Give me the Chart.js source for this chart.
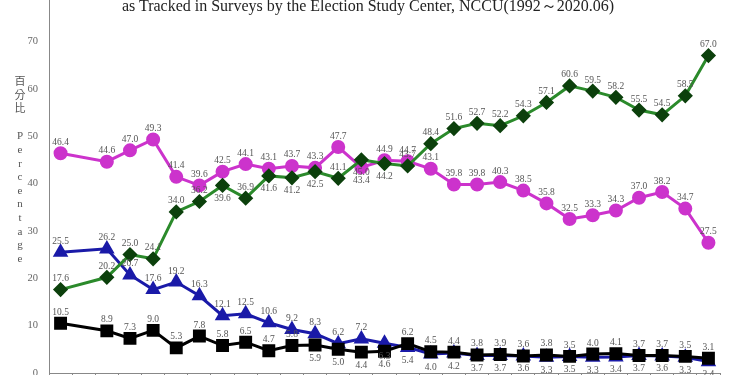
<!DOCTYPE html>
<html>
<head>
<meta charset="utf-8">
<script src="https://cdn.jsdelivr.net/npm/chart.js@4.4.1/dist/chart.umd.min.js"></script>
<style>
    html, body { margin: 0; padding: 0; background: #fff; }
    #page { position: relative; width: 750px; height: 375px; overflow: hidden; background: #fff; }
    #wrap { position: absolute; left: 0; top: -50px; width: 750px; height: 490px; }
    #titulo { position: absolute; left: 0; top: -4px; width: 736px; text-align: center;
        font: 16px "Liberation Serif", serif; color: #222; white-space: nowrap; z-index: 2; }
    #ejeY { position: absolute; left: 13px; top: 75px; width: 14px; text-align: center;
        font: 11px "Liberation Serif", "Noto Sans CJK TC", serif; line-height: 13.6px; color: #555; z-index: 2; }
</style>
</head>
<body>
<div id="page">
    <div id="titulo">as Tracked in Surveys by the Election Study Center, NCCU(1992～2020.06)</div>
    <div id="ejeY">百<br>分<br>比<br>&nbsp;<br>P<br>e<br>r<br>c<br>e<br>n<br>t<br>a<br>g<br>e</div>
    <div id="wrap"><canvas id="grafico"></canvas></div>
</div>
<script>
// años de encuesta (1993 sin dato)
var years = ['1992', '1993', '1994', '1995', '1996', '1997', '1998', '1999', '2000', '2001', '2002',
    '2003', '2004', '2005', '2006', '2007', '2008', '2009', '2010', '2011', '2012', '2013', '2014',
    '2015', '2016', '2017', '2018', '2019', '2020.06'];

var taiwanese = [17.6, null, 20.2, 25.0, 24.1, 34.0, 36.2, 39.6, 36.9, 41.6, 41.2, 42.5, 41.1, 45.0,
    44.2, 43.7, 48.4, 51.6, 52.7, 52.2, 54.3, 57.1, 60.6, 59.5, 58.2, 55.5, 54.5, 58.5, 67.0];
var both = [46.4, null, 44.6, 47.0, 49.3, 41.4, 39.6, 42.5, 44.1, 43.1, 43.7, 43.3, 47.7, 43.4,
    44.9, 44.7, 43.1, 39.8, 39.8, 40.3, 38.5, 35.8, 32.5, 33.3, 34.3, 37.0, 38.2, 34.7, 27.5];
var chinese = [25.5, null, 26.2, 20.7, 17.6, 19.2, 16.3, 12.1, 12.5, 10.6, 9.2, 8.3, 6.2, 7.2,
    6.3, 5.4, 4.0, 4.2, 3.7, 3.7, 3.6, 3.3, 3.5, 3.3, 3.4, 3.7, 3.6, 3.3, 2.4];
var nonResponse = [10.5, null, 8.9, 7.3, 9.0, 5.3, 7.8, 5.8, 6.5, 4.7, 5.8, 5.9, 5.0, 4.4,
    4.6, 6.2, 4.5, 4.4, 3.8, 3.9, 3.6, 3.8, 3.5, 4.0, 4.1, 3.7, 3.7, 3.5, 3.1];

var yTicks = [0, 10, 20, 30, 40, 50, 60, 70, 80];

// posicion de etiquetas: 'u' arriba, 'd' abajo
var posTaiwanese = 'u-uuuuududddudduuuuuuuuuuuuu';
var posBoth = 'u-uuuuuuuuuuudu' + 'uuuuuuuuuuuuuu';
var posChinese = 'u-uuuuuuuuuuuud' + 'dddddddddddddd';
var posNonResponse = 'u-uuuuuuuuudddd' + 'uuuuuuuuuuuuuu';

var etiquetas = {
    id: 'etiquetas',
    afterDatasetsDraw: function (chart) {
        var ctx = chart.ctx;
        ctx.save();
        ctx.font = '9.5px "Liberation Serif", serif';
        ctx.fillStyle = '#555';
        ctx.textAlign = 'center';
        ctx.textBaseline = 'middle';
        chart.data.datasets.forEach(function (ds, i) {
            var meta = chart.getDatasetMeta(i);
            meta.data.forEach(function (p, j) {
                var v = ds.data[j];
                if (v === null) return;
                var dy = ds.posEtiq.charAt(j) === 'd' ? 13 : -11;
                ctx.fillText(v.toFixed(1), p.x, p.y + dy);
            });
        });
        ctx.restore();
    }
};

new Chart(document.getElementById('grafico'), {
    type: 'line',
    data: {
        labels: years,
        datasets: [{
            label: 'Non-response',
            data: nonResponse,
            posEtiq: posNonResponse,
            borderColor: '#000',
            backgroundColor: '#000',
            borderWidth: 3,
            pointStyle: 'rect',
            pointRadius: 7,
            spanGaps: true
        }, {
            label: 'Taiwanese',
            data: taiwanese,
            posEtiq: posTaiwanese,
            borderColor: '#2b8a2b',
            backgroundColor: '#0c400c',
            pointBorderColor: '#0c400c',
            borderWidth: 3,
            pointStyle: 'rectRot',
            pointRadius: 5.5,
            spanGaps: true
        }, {
            label: 'Chinese',
            data: chinese,
            posEtiq: posChinese,
            borderColor: '#1a1aa8',
            backgroundColor: '#1a1aa8',
            borderWidth: 3,
            pointStyle: 'triangle',
            pointRadius: 6,
            spanGaps: true
        }, {
            label: 'Both',
            data: both,
            posEtiq: posBoth,
            borderColor: '#cc33cc',
            backgroundColor: '#cc33cc',
            borderWidth: 3,
            pointStyle: 'circle',
            pointRadius: 5.5,
            spanGaps: true
        }]
    },
    options: {
        responsive: true,
        maintainAspectRatio: false,
        animation: false,
        layout: { padding: { top: 44, right: 30, bottom: 10, left: 0 } },
        plugins: {
            legend: { display: false },
            tooltip: { enabled: false }
        },
        elements: { line: { tension: 0 } },
        scales: {
            x: {
                offset: true,
                grid: { offset: true, drawOnChartArea: false, tickLength: 5, color: '#888' },
                border: { color: '#888', width: 1 },
                ticks: { color: '#555', font: { family: 'Liberation Serif', size: 11 }, maxRotation: 0, autoSkip: false },
                afterFit: function (s) { s.height = 57; }
            },
            y: {
                min: 0,
                max: 80,
                afterBuildTicks: function (s) { s.ticks = yTicks.map(function (v) { return { value: v }; }); },
                grid: { display: false, tickLength: 0 },
                border: { color: '#888', width: 1 },
                ticks: { color: '#666', font: { family: 'Liberation Serif', size: 10.5 }, padding: 11 },
                afterFit: function (s) { s.width = 49; }
            }
        }
    },
    plugins: [etiquetas]
});
</script>
</body>
</html>
